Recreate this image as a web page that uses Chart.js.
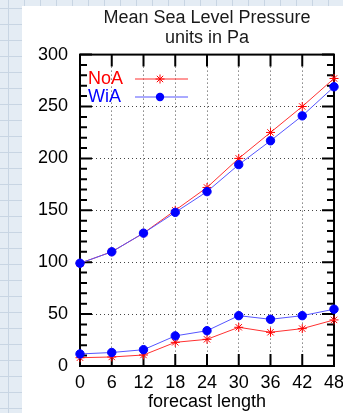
<!DOCTYPE html>
<html>
<head>
<meta charset="utf-8">
<script src="https://cdn.jsdelivr.net/npm/chart.js@4/dist/chart.umd.min.js"></script>
<style>
    html, body { margin: 0; padding: 0; width: 343px; height: 413px; overflow: hidden; }
    body {
        background-color: #e4ecf4;
        background-image: linear-gradient(#c8d5e3 1px, transparent 1px), linear-gradient(90deg, #c8d5e3 1px, transparent 1px);
        background-size: 16px 16px;
        background-position: 8px 8px;
        position: relative;
    }
    #wrap { position: absolute; left: 22px; top: 6px; width: 370px; height: 407px; background: #fff; }
</style>
</head>
<body>
<div id="wrap"><canvas id="mslp" width="370" height="407"></canvas></div>
<script>
    const hours = ['0', '6', '12', '18', '24', '30', '36', '42', '48'];
    const seriesNames = ['NoA', 'WiA'];

    // upper curves
    const noaUpper = [99, 110, 128, 150, 172, 200, 225, 250, 277];
    const wiaUpper = [99, 110, 128, 148, 168, 194, 217, 241, 269];
    // lower curves
    const noaLower = [8, 8.7, 10.6, 22.8, 25.7, 37.3, 32.5, 36, 44.4];
    const wiaLower = [11.6, 13, 15.7, 29, 34, 48.5, 45, 48.5, 54.7];

    const yMajorTicks = [0, 50, 100, 150, 200, 250, 300];

    const FONT = 'Liberation Sans, Arial, Helvetica, sans-serif';

    function wiaSet(data, label) {
        return {
            label: label, data: data, group: 'WiA',
            borderColor: '#5555ff', borderWidth: 1,
            pointStyle: 'circle', pointRadius: 4.2,
            pointBackgroundColor: '#0000ff', pointBorderColor: '#0000ff', pointBorderWidth: 1,
            clip: false
        };
    }

    function noaSet(data, label) {
        return {
            label: label, data: data, group: 'NoA',
            borderColor: '#ff3030', borderWidth: 1,
            pointStyle: 'star', pointRadius: 4.5,
            pointBackgroundColor: '#ff0000', pointBorderColor: '#ff0000', pointBorderWidth: 1,
            clip: false
        };
    }

    // frame + inward ticks, drawn before the data (points sit on top of the border)
    const framePlugin = {
        id: 'frame',
        beforeDatasetsDraw(chart) {
            const ctx = chart.ctx;
            const a = chart.chartArea;
            const xs = chart.scales.x;
            const ys = chart.scales.y;
            ctx.save();
            ctx.strokeStyle = '#000';
            ctx.lineWidth = 2;
            ctx.beginPath();
            xs.ticks.forEach((t, i) => {
                const px = xs.getPixelForTick(i);
                ctx.moveTo(px, a.bottom); ctx.lineTo(px, a.bottom - 12);
                ctx.moveTo(px, a.top); ctx.lineTo(px, a.top + 12);
            });
            for (let v = 0; v <= 300; v += 10) {
                const py = ys.getPixelForValue(v);
                const len = v % 50 === 0 ? 12 : 7;
                ctx.moveTo(a.left, py); ctx.lineTo(a.left + len, py);
                ctx.moveTo(a.right, py); ctx.lineTo(a.right - len, py);
            }
            ctx.stroke();
            ctx.strokeRect(a.left, a.top, a.right - a.left, a.bottom - a.top);
            ctx.restore();
        },
        afterDatasetsDraw(chart) {
            // key, inside the top left corner
            const ctx = chart.ctx;
            const rows = [
                { name: seriesNames[0], color: '#ff0000', line: '#ff3030', y: 73 },
                { name: seriesNames[1], color: '#0000ff', line: '#5555ff', y: 91 }
            ];
            ctx.save();
            ctx.font = '18px ' + FONT;
            ctx.textBaseline = 'middle';
            ctx.textAlign = 'left';
            rows.forEach((r, i) => {
                ctx.fillStyle = r.color;
                ctx.fillText(r.name, 66, r.y);
                ctx.strokeStyle = r.line;
                ctx.lineWidth = 1;
                ctx.beginPath();
                ctx.moveTo(113, r.y); ctx.lineTo(166, r.y);
                ctx.stroke();
                const mx = 138;
                if (i === 0) {
                    const s = 4.5, d = s * Math.SQRT1_2;
                    ctx.strokeStyle = r.color;
                    ctx.beginPath();
                    ctx.moveTo(mx - s, r.y); ctx.lineTo(mx + s, r.y);
                    ctx.moveTo(mx, r.y - s); ctx.lineTo(mx, r.y + s);
                    ctx.moveTo(mx - d, r.y - d); ctx.lineTo(mx + d, r.y + d);
                    ctx.moveTo(mx - d, r.y + d); ctx.lineTo(mx + d, r.y - d);
                    ctx.stroke();
                } else {
                    ctx.fillStyle = r.color;
                    ctx.beginPath();
                    ctx.arc(mx, r.y, 4.2, 0, Math.PI * 2);
                    ctx.fill();
                }
            });
            ctx.restore();
        }
    };

    const edgeless = (ctx, edges) => edges.includes(ctx.tick && ctx.tick.value) ? 'rgba(0,0,0,0)' : '#444';

    new Chart(document.getElementById('mslp'), {
        type: 'line',
        data: {
            labels: hours,
            datasets: [
                wiaSet(wiaUpper, 'WiA'),
                wiaSet(wiaLower, 'WiA lower'),
                noaSet(noaUpper, 'NoA'),
                noaSet(noaLower, 'NoA lower')
            ]
        },
        options: {
            responsive: false,
            animation: false,
            devicePixelRatio: 1,
            layout: { padding: { left: 0, right: 58, top: 0, bottom: 0 } },
            elements: { line: { tension: 0 } },
            plugins: {
                legend: { display: false },
                tooltip: { enabled: false },
                title: {
                    display: true,
                    fullSize: false,
                    text: ['Mean Sea Level Pressure', 'units in Pa'],
                    color: '#1a1a1a',
                    font: { family: FONT, size: 18, weight: 'normal', lineHeight: 1.1 },
                    padding: { top: 2, bottom: 7 }
                }
            },
            scales: {
                x: {
                    type: 'category',
                    offset: false,
                    afterFit(scale) { scale.height = 47; },
                    grid: {
                        drawTicks: false,
                        lineWidth: 1,
                        color: (ctx) => (ctx.index === 0 || ctx.index === hours.length - 1) ? 'rgba(0,0,0,0)' : '#444'
                    },
                    border: { display: false, dash: [1, 3] },
                    ticks: {
                        color: '#000', padding: 6, maxRotation: 0, autoSkip: false,
                        font: { family: FONT, size: 18 }
                    },
                    title: {
                        display: true, text: 'forecast length', color: '#000',
                        font: { family: FONT, size: 18, lineHeight: 1.2 },
                        padding: { top: 0, bottom: 0 }
                    }
                },
                y: {
                    min: 0, max: 300,
                    afterFit(scale) { scale.width = 58; },
                    afterBuildTicks(scale) { scale.ticks = yMajorTicks.map(v => ({ value: v })); },
                    grid: {
                        drawTicks: false,
                        lineWidth: 1,
                        color: (ctx) => edgeless(ctx, [0, 300])
                    },
                    border: { display: false, dash: [1, 3] },
                    ticks: {
                        color: '#000', padding: 12,
                        font: { family: FONT, size: 18 }
                    }
                }
            }
        },
        plugins: [framePlugin]
    });
</script>
</body>
</html>
